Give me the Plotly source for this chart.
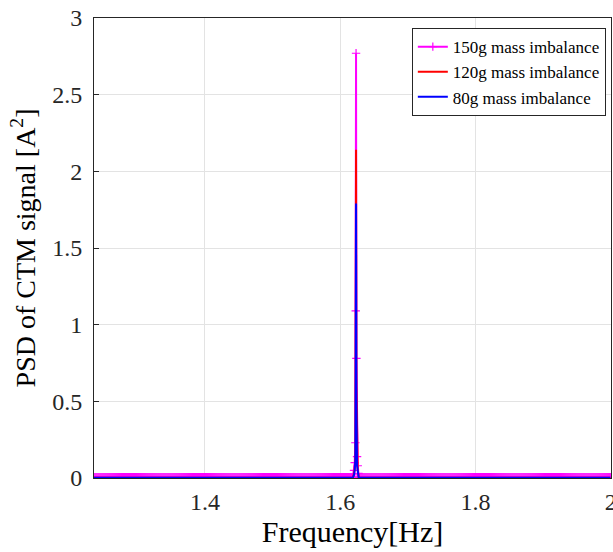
import numpy as np
import plotly.graph_objects as go

# Frequency grid (Hz) and PSD values [A^2]
freq_start, freq_end, freq_step = 1.236, 2.0, 0.0015
peak_freqs = [1.6195, 1.6205, 1.6215, 1.6225, 1.6230, 1.6235, 1.6240, 1.6250, 1.6260, 1.6270]
psd_150_peak = [0.02, 0.05, 0.10, 0.23, 1.09, 2.77, 0.78, 0.14, 0.08, 0.03]
psd_120_peak = [0.01, 0.03, 0.06, 0.15, 0.85, 2.14, 0.60, 0.10, 0.05, 0.02]
psd_80_peak = [0.01, 0.02, 0.05, 0.12, 0.70, 1.79, 0.50, 0.08, 0.04, 0.01]
baseline_150 = 0.006
baseline_120 = 0.002
baseline_80 = 0.001

grid = np.arange(freq_start, freq_end + 1e-9, freq_step)
grid = grid[(grid < peak_freqs[0]) | (grid > peak_freqs[-1])]

def series(peak_vals, base):
    x = np.concatenate([grid, peak_freqs])
    y = np.concatenate([np.full(len(grid), base), peak_vals])
    order = np.argsort(x)
    return x[order], y[order]

x150, y150 = series(psd_150_peak, baseline_150)
x120, y120 = series(psd_120_peak, baseline_120)
x80, y80 = series(psd_80_peak, baseline_80)

fig = go.Figure()
fig.add_trace(go.Scatter(x=x150, y=y150, mode="lines+markers", name="150g mass imbalance",
                         line=dict(color="#ff00ff", width=2),
                         marker=dict(symbol="cross-thin-open", size=6, color="#ff00ff",
                                     line=dict(width=1.2, color="#ff00ff"))))
fig.add_trace(go.Scatter(x=x120, y=y120, mode="lines", name="120g mass imbalance",
                         line=dict(color="#ff0000", width=2)))
fig.add_trace(go.Scatter(x=x80, y=y80, mode="lines", name="80g mass imbalance",
                         line=dict(color="#0000ff", width=2)))

font_family = "Liberation Serif"
fig.update_layout(
    width=613, height=552,
    margin=dict(l=94, r=2, t=18, b=74),
    plot_bgcolor="white", paper_bgcolor="white",
    font=dict(family=font_family, color="#262626"),
    showlegend=True,
    legend=dict(x=0.99, y=0.978, xanchor="right", yanchor="top",
                bgcolor="white", bordercolor="#262626", borderwidth=1,
                font=dict(size=17, family=font_family, color="#000000"),
                tracegroupgap=0, itemwidth=30),
)
fig.update_xaxes(range=[1.236, 2.0005], tickvals=[1.4, 1.6, 1.8, 2.0],
                 ticktext=["1.4", "1.6", "1.8", "2"], ticklabeloverflow="allow",
                 automargin=False, ticklabelstandoff=2,
                 showgrid=True, gridcolor="#e3e3e3", gridwidth=1,
                 showline=True, linecolor="#262626", linewidth=1, mirror=True,
                 ticks="inside", ticklen=5, tickcolor="#262626", layer="below traces",
                 tickfont=dict(size=24, family=font_family), zeroline=False,
                 title=dict(text="Frequency[Hz]", font=dict(size=30, color="#000000", family=font_family), standoff=0))
fig.update_yaxes(range=[0, 3], tickvals=[0, 0.5, 1, 1.5, 2, 2.5, 3],
                 ticktext=["0", "0.5", "1", "1.5", "2", "2.5", "3"],
                 automargin=False, ticklabelstandoff=6,
                 showgrid=True, gridcolor="#e3e3e3", gridwidth=1,
                 showline=True, linecolor="#262626", linewidth=1, mirror=True,
                 ticks="inside", ticklen=5, tickcolor="#262626", layer="below traces",
                 tickfont=dict(size=24, family=font_family), zeroline=False,
                 title=dict(text="PSD of CTM signal [A<sup>2</sup>]", font=dict(size=28, color="#000000", family=font_family), standoff=8))

fig.write_html("out.html")
